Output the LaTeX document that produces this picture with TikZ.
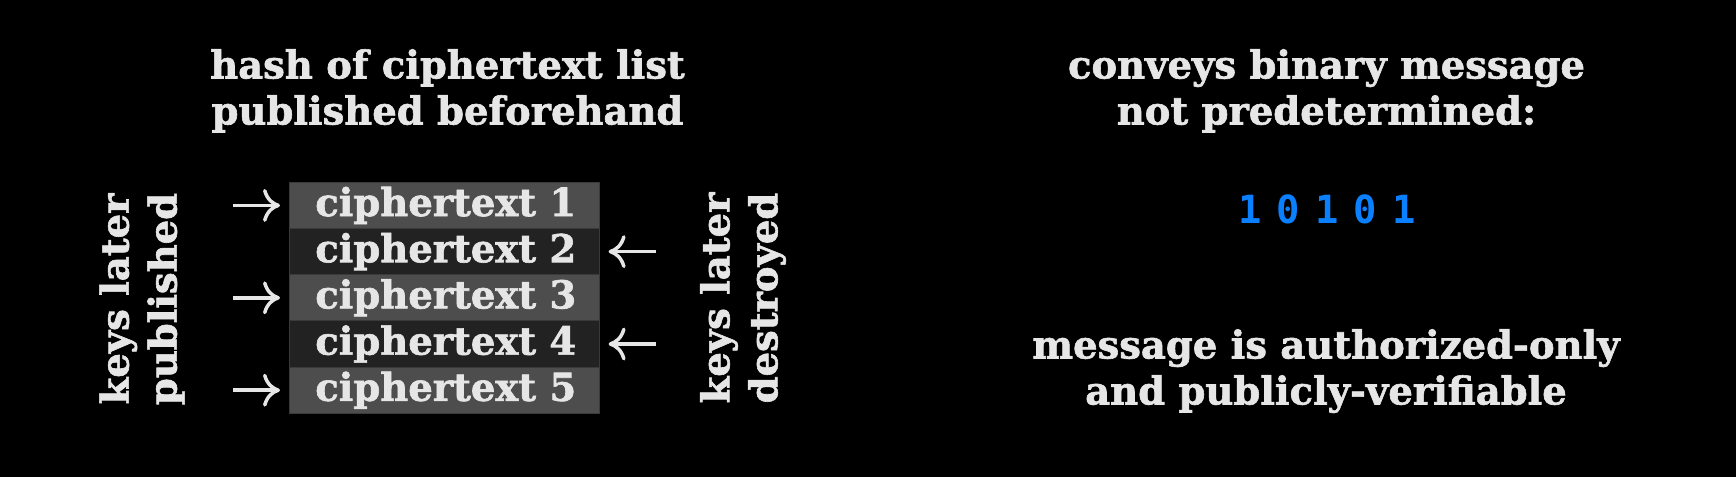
\documentclass[tikz,border=0pt]{standalone}
\usepackage{fontspec}
\setmainfont{DejaVu Serif}[BoldFeatures={FakeBold=1.6}]
\newfontfamily\digitfont{DejaVu Sans Mono}
\usetikzlibrary{arrows.meta}
\definecolor{txt}{RGB}{230,230,230}
\definecolor{rowlight}{RGB}{77,77,77}
\definecolor{rowdark}{RGB}{34,34,34}
\definecolor{rowline}{RGB}{58,58,58}
\definecolor{bitblue}{RGB}{10,128,255}
\begin{document}
\begin{tikzpicture}[x=1pt,y=-1pt,
  lbl/.style={text=txt,font=\bfseries\fontsize{38.5}{46}\selectfont,align=center,inner sep=0pt},
  vlbl/.style={lbl,font=\bfseries\fontsize{38.5}{48}\selectfont,rotate=90},
  ctrow/.style={minimum width=310pt,minimum height=46.2pt,inner sep=0pt,outer sep=0pt,text=txt,
    font=\bfseries\fontsize{38.5}{46}\selectfont,draw=rowline,line width=1pt},
  lightrow/.style={ctrow,fill=rowlight},
  darkrow/.style={ctrow,fill=rowdark},
  karrow/.style={draw=txt,line width=3.5pt,-{Computer Modern Rightarrow[length=17pt,width=33pt]}}]
\fill[black] (0,0) rectangle (1736,477);
\useasboundingbox (0,0) rectangle (1736,477);

% titles
\node[lbl,anchor=north] (t1) at (447.5,49) {hash of ciphertext list\\published beforehand};
\node[lbl,anchor=north] (t2) at (1326.5,49) {conveys binary message\\not predetermined:};
\node[lbl,anchor=north] (t3) at (1326,329) {message is authorized-only\\and publicly-verifiable};

% ciphertext list
\node[lightrow] (r1) at (444.3,205.4) {\hspace{3pt}ciphertext 1};
\node[darkrow]  (r2) at (444.3,251.6) {\hspace{3pt}ciphertext 2};
\node[lightrow] (r3) at (444.3,297.8) {\hspace{3pt}ciphertext 3};
\node[darkrow]  (r4) at (444.3,344.0) {\hspace{3pt}ciphertext 4};
\node[lightrow] (r5) at (444.3,390.2) {\hspace{3pt}ciphertext 5};

% side labels
\node[vlbl] (kp) at (142,299) {keys later\\published};
\node[vlbl] (kd) at (743,298) {keys later\\destroyed};

% arrows
\coordinate (a1) at (232.7,205.4);
\coordinate (a3) at (232.7,297.8);
\coordinate (a5) at (232.7,390.2);
\coordinate (b2) at (656,251.6);
\coordinate (b4) at (656,344.0);
\draw[karrow] (a1) -- ([xshift=-9.3pt]r1.west);
\draw[karrow] (a3) -- ([xshift=-9.3pt]r3.west);
\draw[karrow] (a5) -- ([xshift=-9.3pt]r5.west);
\draw[karrow] (b2) -- ([xshift=9.3pt]r2.east);
\draw[karrow] (b4) -- ([xshift=9.3pt]r4.east);

% bits
\node[text=bitblue,font=\digitfont\bfseries\fontsize{38.8}{40}\selectfont,inner sep=0pt] (bits) at (1327,209)
  {1\hspace{15.2pt}0\hspace{15.2pt}1\hspace{15.2pt}0\hspace{15.2pt}1};
\end{tikzpicture}
\end{document}
